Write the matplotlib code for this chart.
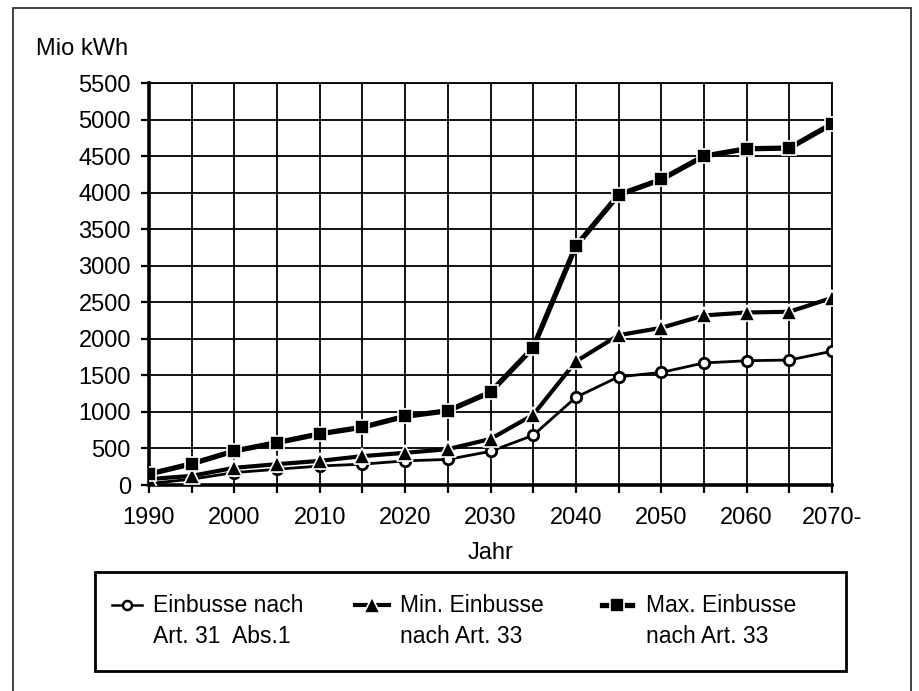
import matplotlib
matplotlib.use("Agg")
from matplotlib import pyplot as plt
from matplotlib.lines import Line2D
from matplotlib.patches import Rectangle

plt.rcParams['font.family'] = ['Liberation Sans', 'DejaVu Sans']

# Daten (Mio kWh)
jahre = [1990, 1995, 2000, 2005, 2010, 2015, 2020, 2025, 2030,
         2035, 2040, 2045, 2050, 2055, 2060, 2065, 2070]
einbusse_art31 = [20, 80, 170, 215, 260, 285, 330, 350, 460,
                  680, 1200, 1480, 1540, 1670, 1700, 1710, 1830]
min_einbusse_art33 = [80, 125, 235, 285, 330, 395, 440, 490, 630,
                      960, 1690, 2050, 2150, 2320, 2360, 2370, 2560]
max_einbusse_art33 = [150, 290, 466, 580, 700, 790, 940, 1015, 1270,
                      1880, 3270, 3970, 4180, 4500, 4600, 4610, 4940]

x_ticks = [1990, 2000, 2010, 2020, 2030, 2040, 2050, 2060, 2070]
x_labels = ['1990', '2000', '2010', '2020', '2030', '2040', '2050', '2060', '2070-']
y_ticks = list(range(0, 5501, 500))
legend_labels = [('Einbusse nach', 'Art. 31  Abs.1'),
                 ('Min. Einbusse', 'nach Art. 33'),
                 ('Max. Einbusse', 'nach Art. 33')]

W, H = 919, 691
fig = plt.figure(figsize=(W / 100, H / 100), dpi=100)
ax = fig.add_axes([149 / W, 1 - 485 / H, (832 - 149) / W, (485 - 83) / H])

stil = [
    dict(color='black', lw=2.0, marker='o', ms=7.5, mfc='white', mec='black', mew=2.0),
    dict(color='black', lw=3.0, marker='^', ms=11, mfc='black', mec='white', mew=1.2),
    dict(color='black', lw=3.8, marker='s', ms=10, mfc='black', mec='white', mew=1.2),
]

ax.plot(jahre, einbusse_art31, zorder=5, **stil[0])
ax.plot(jahre, min_einbusse_art33, zorder=6, **stil[1])
ax.plot(jahre, max_einbusse_art33, zorder=7, **stil[2])

ax.set_xlim(1990, 2070)
ax.set_ylim(0, 5500)
ax.set_xticks(x_ticks)
ax.set_xticklabels(x_labels)
ax.set_xticks(list(range(1995, 2070, 10)), minor=True)
ax.set_yticks(y_ticks)
ax.grid(True, which='both', color='black', lw=1.3)
ax.set_axisbelow(True)

for s in ['top', 'right']:
    ax.spines[s].set_linewidth(1.3)
for s in ['bottom', 'left']:
    ax.spines[s].set_linewidth(2.6)

ax.tick_params(axis='both', which='both', direction='out', length=6, width=1.6,
               color='black', labelsize=17, pad=7)
ax.tick_params(axis='x', which='both', pad=10)
ax.set_xlabel('Jahr', fontsize=17, labelpad=9)
fig.text(36 / W, 1 - 55 / H, 'Mio kWh', fontsize=17, va='baseline', ha='left')

# Legende (von Hand, wie im Original)
fig.patches.append(Rectangle((95 / W, 1 - 671 / H), (846 - 95) / W, 99 / H,
                             transform=fig.transFigure, fill=False,
                             edgecolor='black', lw=2.0))
handle_x = [(112, 142), (355, 389), (602, 632)]
text_x = [153, 400, 646]
zeile1 = 605
for (x0, x1), tx, (z1, z2), st in zip(handle_x, text_x, legend_labels, stil):
    st = dict(st)
    if st['marker'] == 'o':
        st.update(ms=6.5, lw=1.8, mew=1.8)
    xm = (x0 + x1) / 2
    fig.lines.append(Line2D([x0 / W, xm / W, x1 / W], [1 - zeile1 / H] * 3,
                            transform=fig.transFigure, markevery=[1], **st))
    fig.text(tx / W, 1 - 612 / H, z1, fontsize=16.5, va='baseline', ha='left')
    fig.text(tx / W, 1 - 643 / H, z2, fontsize=16.5, va='baseline', ha='left')

# Rahmen um die ganze Grafik
fig.patches.append(Rectangle((13 / W, -0.05), (911 - 13) / W, 1 - 8 / H + 0.05,
                             transform=fig.transFigure, fill=False,
                             edgecolor='#333333', lw=1.3))

fig.savefig('out.png', dpi=100)
